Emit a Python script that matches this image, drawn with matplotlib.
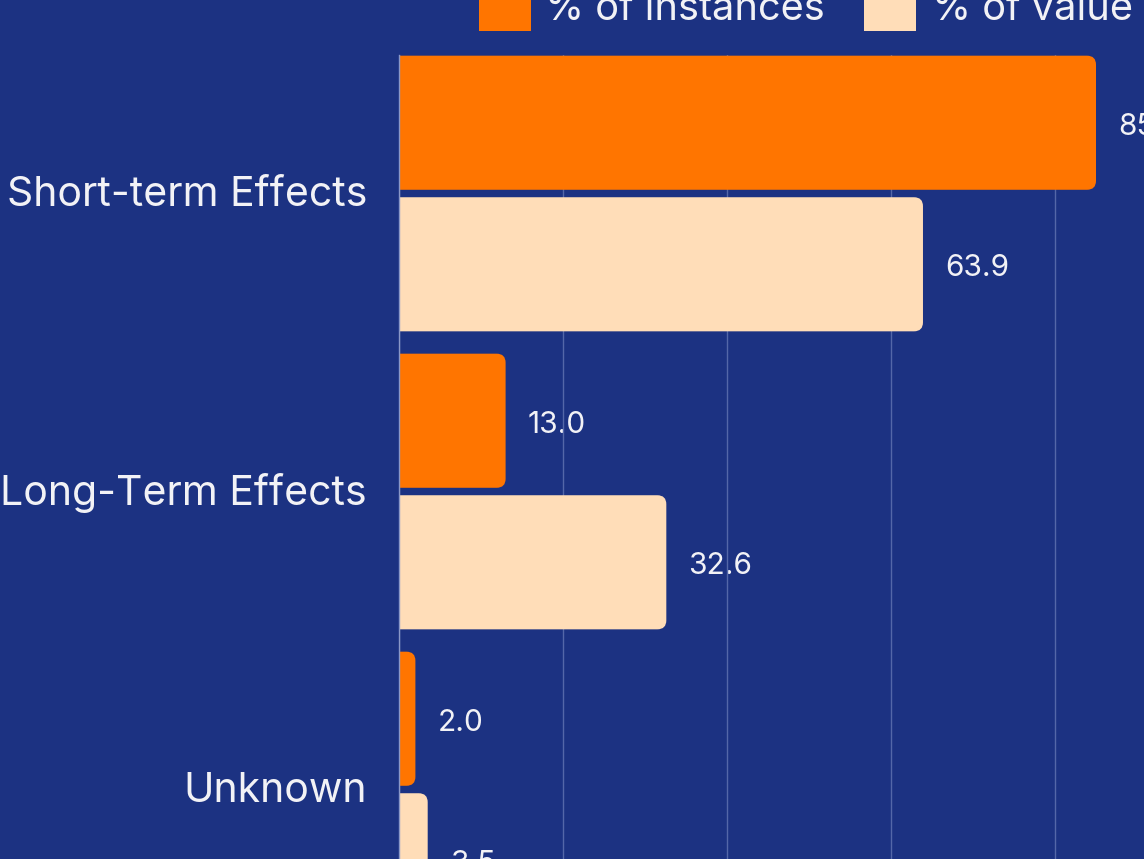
import numpy as np
import matplotlib.pyplot as plt
from matplotlib.patches import FancyBboxPatch, Rectangle
from matplotlib.transforms import ScaledTranslation

# data
categories = ['Short-term Effects', 'Long-Term Effects', 'Unknown']
pct_instances = [85.0, 13.0, 2.0]
pct_value = [63.9, 32.6, 3.5]
series_names = ['% of instances', '% of value']

bg = '#1C3282'
orange = '#FF7500'
cream = '#FFDDB8'
txt = '#F2F2F6'
plt.rcParams['font.family'] = ['Inter', 'DejaVu Sans']

W, H = 1144, 859
fig = plt.figure(figsize=(W / 100, H / 100), dpi=100, facecolor=bg)
# axes runs past the right and bottom edge (picture is a crop)
ax = fig.add_axes([399 / W, (H - 1000) / H, 820 / W, 945 / H])
ax.set_facecolor(bg)

y = np.arange(len(categories))
off = 0.2375
h = 0.45
b1 = ax.barh(y - off, pct_instances, height=h, color=orange)
b2 = ax.barh(y + off, pct_value, height=h, color=cream)

ax.set_xlim(0, 100)
ax.set_ylim(-0.4648 + 945 / 298, -0.4648)

# swap plain bars for rounded ones
px_x = 820 / 100
px_y = 298
rad = 9
for bars, col in [(b1, orange), (b2, cream)]:
    for r in bars:
        x0, y0 = r.get_x(), r.get_y()
        w, hh = r.get_width(), r.get_height()
        r.set_visible(False)
        p = FancyBboxPatch((x0 - 3, y0), w + 3, hh,
                           boxstyle=f"round,pad=0,rounding_size={rad / px_x}",
                           mutation_aspect=(rad / px_y) / (rad / px_x),
                           facecolor=col, edgecolor='none', zorder=2)
        ax.add_patch(p)

for bars, vals in [(b1, pct_instances), (b2, pct_value)]:
    for r, v in zip(bars, vals):
        ax.annotate(f'{v:.1f}', (v, r.get_y() + r.get_height() / 2),
                    xytext=(16, -3), textcoords='offset points',
                    va='center', ha='left', fontsize=21.5, color=txt, zorder=0.4)

ax.set_xticks([0, 20, 40, 60, 80, 100])
ax.xaxis.grid(True, color='#5467A8', linewidth=1)
ax.set_axisbelow(True)
ax.tick_params(axis='x', length=0, labelbottom=False)
ax.set_yticks(y, categories)
ax.tick_params(axis='y', length=0, pad=23, labelsize=29.5, labelcolor=txt)
shift = ScaledTranslation(0, 3 / 100, fig.dpi_scale_trans)
for lab in ax.get_yticklabels():
    lab.set_va('center_baseline')
    lab.set_transform(lab.get_transform() + shift)
for s in ['top', 'right', 'bottom']:
    ax.spines[s].set_visible(False)
ax.spines['left'].set_color('#8A98C8')
ax.spines['left'].set_linewidth(1)

# legend (top, partly cut off)
sq = 52
for x0, col, name, tx in [(479, orange, series_names[0], 545), (864, cream, series_names[1], 932)]:
    fig.add_artist(Rectangle((x0 / W, (H - 31) / H), sq / W, sq / H,
                             transform=fig.transFigure, facecolor=col, edgecolor='none'))
    fig.text(tx / W, (H - 10) / H, name, fontsize=28.6, color=txt, va='center', ha='left')

fig.savefig('out.png', dpi=100, facecolor=bg)
